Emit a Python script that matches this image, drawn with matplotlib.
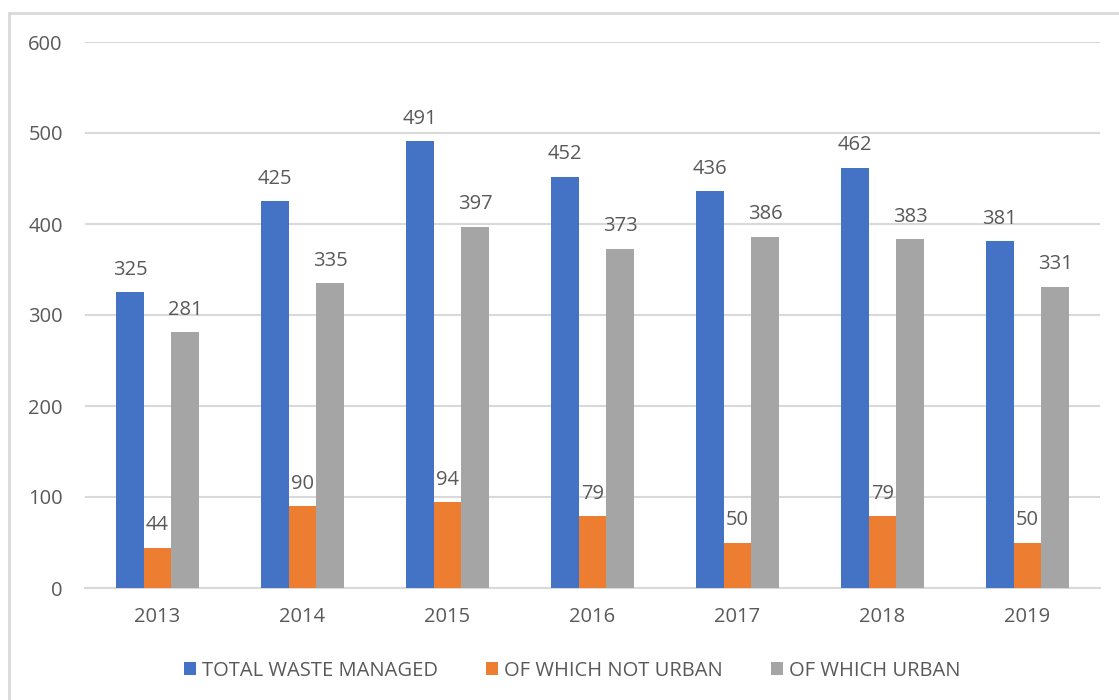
import matplotlib.pyplot as plt
import numpy as np
from matplotlib.patches import Rectangle

plt.rcParams["font.family"] = ["Open Sans", "DejaVu Sans"]

years = ["2013", "2014", "2015", "2016", "2017", "2018", "2019"]
total_waste = [325, 425, 491, 452, 436, 462, 381]
not_urban = [44, 90, 94, 79, 50, 79, 50]
urban = [281, 335, 397, 373, 386, 383, 331]

series = [
    ("TOTAL WASTE MANAGED", total_waste, "#4472C4"),
    ("OF WHICH NOT URBAN", not_urban, "#ED7D31"),
    ("OF WHICH URBAN", urban, "#A5A5A5"),
]

TEXT = "#595959"

fig = plt.figure(figsize=(11.19, 7), dpi=100)
ax = fig.add_axes([0.076, 0.16, 0.907, 0.78])

# light frame around the chart area, like the original export
fig.patches.append(Rectangle((0.008, -0.05), 1.2, 1.031, transform=fig.transFigure,
                             fill=False, edgecolor="#D9D9D9", linewidth=2))

x = np.arange(len(years))
width = 0.19
for i, (name, values, color) in enumerate(series):
    pos = x + (i - 1) * width
    bars = ax.bar(pos, values, width=width, color=color, label=name, zorder=3)
    for b, v in zip(bars, values):
        ax.annotate(f"{v}", (b.get_x() + b.get_width() / 2, v), xytext=(0, 9),
                    textcoords="offset points", ha="center", va="bottom",
                    fontsize=14.5, color=TEXT)

ax.set_xlim(-0.5, len(years) - 0.5)
ax.set_ylim(0, 600)
ax.set_yticks(range(0, 601, 100))
ax.set_xticks(x)
ax.set_xticklabels(years)
ax.grid(axis="y", color="#D9D9D9", linewidth=1.5, zorder=0)
for side in ["top", "right", "left"]:
    ax.spines[side].set_visible(False)
ax.spines["bottom"].set_color("#D9D9D9")
ax.spines["bottom"].set_linewidth(1.5)
ax.tick_params(axis="both", length=0, labelsize=14.5, labelcolor=TEXT)
ax.tick_params(axis="y", pad=16)
ax.tick_params(axis="x", pad=14)

ax.legend(loc="upper center", bbox_to_anchor=(0.48, -0.1), ncol=3, frameon=False,
          fontsize=14.5, labelcolor=TEXT, handlelength=0.6, handleheight=0.6,
          handletextpad=0.3, columnspacing=2.4)

fig.savefig("out.png", dpi=100)
plt.close(fig)
